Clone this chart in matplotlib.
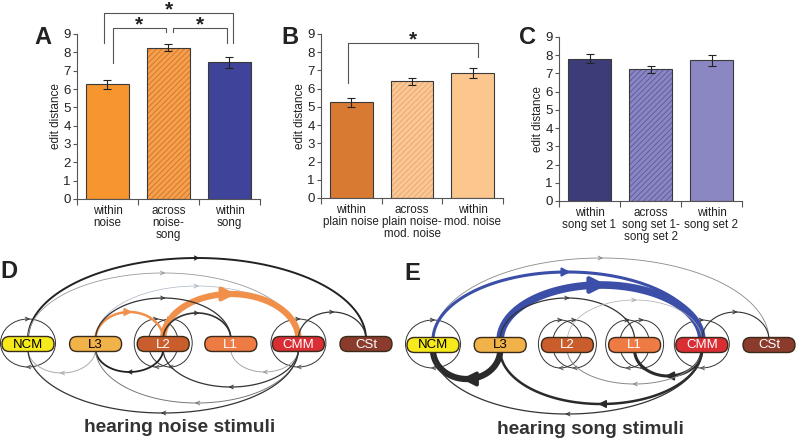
import numpy as np
import matplotlib
matplotlib.use("Agg")
import matplotlib.pyplot as plt
from matplotlib.patches import FancyBboxPatch, Ellipse

plt.rcParams['font.family'] = ['Liberation Sans', 'DejaVu Sans']
plt.rcParams['hatch.linewidth'] = 0.6

# ---------------- data ----------------
labels_a = ["within\nnoise", "across\nnoise-\nsong", "within\nsong"]
means_a = [6.25, 8.25, 7.45]
errs_a = [0.25, 0.2, 0.3]

labels_b = ["within\nplain noise", "across\nplain noise-\nmod. noise", "within\nmod. noise"]
means_b = [5.25, 6.4, 6.85]
errs_b = [0.25, 0.2, 0.28]

labels_c = ["within\nsong set 1", "across\nsong set 1-\nsong set 2", "within\nsong set 2"]
means_c = [7.8, 7.22, 7.72]
errs_c = [0.25, 0.2, 0.3]

nodes = ["NCM", "L3", "L2", "L1", "CMM", "CSt"]
node_colors = ["#f6ea1c", "#f2b24a", "#c95d2b", "#ee7a44", "#da2e35", "#8a3b2c"]
node_text = ["black", "black", "white", "white", "white", "white"]

# edges: source, target, weight (line width), colour
edges_d = [
    ("NCM", "CSt", 1.4, "#222222"), ("NCM", "CMM", 0.6, "#999999"),
    ("L3", "CMM", 0.5, "#aab4c8"), ("L3", "L2", 1.8, "#f0904a"),
    ("L2", "CMM", 4.5, "#f0904a"), ("L3", "L1", 0.9, "#333333"),
    ("L2", "L1", 1.2, "#333333"), ("CMM", "CSt", 0.9, "#333333"),
    ("L3", "NCM", 0.7, "#aaaaaa"), ("L2", "L3", 1.3, "#222222"),
    ("CMM", "L1", 0.6, "#999999"), ("CMM", "L2", 0.9, "#333333"),
    ("CMM", "L3", 0.7, "#777777"), ("CMM", "NCM", 0.9, "#333333"),
]
loops_d = {"NCM": 1, "L2": 2, "CMM": 1}

edges_e = [
    ("NCM", "CSt", 0.6, "#888888"), ("NCM", "CMM", 2.2, "#3b4ea8"),
    ("L3", "CMM", 5.5, "#3b4ea8"), ("L3", "L1", 0.9, "#333333"),
    ("L2", "CMM", 0.5, "#aaaaaa"), ("CMM", "CSt", 0.8, "#333333"),
    ("L3", "NCM", 4.5, "#2a2a2a"), ("CMM", "L1", 2.2, "#2a2a2a"),
    ("CMM", "L2", 0.7, "#888888"), ("CMM", "L3", 1.8, "#2a2a2a"),
    ("CMM", "NCM", 0.9, "#333333"),
]
loops_e = {"NCM": 1, "L2": 2, "L1": 2, "CMM": 1}

# arc heights (pixels), same order as edges
heights_d = [86, 71, 58, 32, 50, 46, 31, 32, 29, 28, 28, 43, 59, 69]
heights_e = [87, 73, 60, 47, 45, 33, 34, 31, 39, 59, 69]

W, H = 797, 442
fig = plt.figure(figsize=(W / 100, H / 100), dpi=100)


def px_axes(l, r, t, b):
    return fig.add_axes([l / W, 1 - b / H, (r - l) / W, (b - t) / H])


def bar_panel(ax, means, errs, labels, colors, hatch_col):
    x = np.arange(len(means))
    for i in range(len(means)):
        if hatch_col[i] is not None:
            ax.bar(x[i], means[i], width=0.7, color=colors[i], edgecolor=hatch_col[i],
                   hatch="//////", linewidth=0, zorder=2)
            ax.bar(x[i], means[i], width=0.7, fill=False, edgecolor="#3a3a3a",
                   linewidth=0.8, zorder=3)
        else:
            ax.bar(x[i], means[i], width=0.7, color=colors[i], edgecolor="#3a3a3a",
                   linewidth=0.8, zorder=2)
    ax.errorbar(x, means, yerr=errs, fmt="none", ecolor="#222222", elinewidth=0.8,
                capsize=3, capthick=0.8, zorder=4)
    ax.set_xlim(-0.5, 2.5)
    ax.set_ylim(0, 9)
    ax.set_yticks(range(10))
    ax.set_xticks([-0.5, 0.5, 1.5, 2.5])
    ax.set_xticklabels([])
    ax.set_xticks(x, minor=True)
    ax.set_xticklabels(labels, minor=True, fontsize=8.4, linespacing=0.98,
                       color="#222222")
    ax.tick_params(axis="x", which="minor", length=0, pad=4.5)
    ax.tick_params(axis="x", which="major", length=4, width=0.8, color="#555555")
    ax.tick_params(axis="y", length=3, width=0.8, labelsize=9.5, pad=1.5,
                   color="#555555", labelcolor="#222222")
    for s in ["top", "right"]:
        ax.spines[s].set_visible(False)
    for s in ["left", "bottom"]:
        ax.spines[s].set_color("#555555")
        ax.spines[s].set_linewidth(0.8)
    ax.set_ylabel("edit distance", fontsize=8.5, labelpad=1, color="#222222")


def bracket(ax, x1, x2, y, y1, y2):
    ax.plot([x1, x1, x2, x2], [y1, y, y, y2], color="#555555", lw=0.8,
            clip_on=False, zorder=5)


def star(ax, x, y):
    ax.text(x, y, "*", ha="center", va="center", fontsize=15, fontweight="bold",
            color="#222222", clip_on=False)


ax_a = px_axes(77, 260, 34, 199)
bar_panel(ax_a, means_a, errs_a, labels_a, ["#f7962f", "#f4a04c", "#3f4399"],
          [None, "#d2702a", None])
bracket(ax_a, -0.06, 2.06, 10.15, 8.5, 8.5)
bracket(ax_a, 0.09, 0.96, 9.33, 7.4, 9.1)
bracket(ax_a, 1.07, 1.96, 9.33, 9.1, 8.5)
star(ax_a, 1.0, 10.3)
star(ax_a, 0.52, 9.5)
star(ax_a, 1.52, 9.5)

ax_b = px_axes(321, 503, 34, 198)
bar_panel(ax_b, means_b, errs_b, labels_b, ["#d97a33", "#f9c896", "#fbc78e"],
          [None, "#e9a466", None])
bracket(ax_b, -0.06, 2.09, 8.5, 6.3, 7.75)
star(ax_b, 1.02, 8.7)

ax_c = px_axes(559, 742, 37, 201)
bar_panel(ax_c, means_c, errs_c, labels_c, ["#3d3c78", "#8a86c4", "#8b87c3"],
          [None, "#5b589c", None])

# ---------------- network diagrams ----------------
ov = fig.add_axes([0, 0, 1, 1])
ov.set_xlim(0, W)
ov.set_ylim(H, 0)
ov.axis("off")
ov.patch.set_alpha(0)

node_w, node_h = 52, 15


def arrow_head(x, y, direction, lw, color):
    big = lw >= 1.7
    d = 1.5 + lw * 0.8
    style = "-|>" if big else "->"
    scale = 6 + lw * 3.2 if big else 7
    ov.annotate("", xy=(x + direction * d, y), xytext=(x - direction * d, y),
                arrowprops=dict(arrowstyle=style, color=color, lw=max(lw * 0.6, 0.6),
                                mutation_scale=scale, shrinkA=0, shrinkB=0),
                zorder=2)


def draw_network(x0, step, y0, edges, heights, loops):
    pos = {n: x0 + i * step for i, n in enumerate(nodes)}
    # self loops
    for n, k in loops.items():
        cx = pos[n]
        offs = [0] if k == 1 else [-7, 7]
        for o in offs:
            wdt = 55 if k == 1 else 44
            ov.add_patch(Ellipse((cx + o, y0 - 1), wdt, 48, fill=False, lw=0.7,
                                 ec="#333333", zorder=1))
            arrow_head(cx + o, y0 - 25, 1, 0.7, "#333333")
            arrow_head(cx + o, y0 + 23, -1, 0.7, "#555555")
    # arcs
    t = np.linspace(0, np.pi, 120)
    for (s, d, lw, col), h in zip(edges, heights):
        xs, xd = pos[s], pos[d]
        up = xd > xs
        xc = (xs + xd) / 2
        a = (xd - xs) / 2
        sign = -1 if up else 1
        yb = y0 + sign * 5
        xx = xc - a * np.cos(t)
        yy = yb + sign * (h - 5) * np.sin(t)
        ov.plot(xx, yy, color=col, lw=lw, solid_capstyle="butt", zorder=2)
        arrow_head(xc, yb + sign * (h - 5), 1 if up else -1, lw, col)
    # nodes
    for i, n in enumerate(nodes):
        cx = pos[n]
        ov.add_patch(FancyBboxPatch((cx - node_w / 2, y0 - node_h / 2), node_w,
                                    node_h, boxstyle="round,pad=0,rounding_size=7.5",
                                    fc=node_colors[i], ec="#3a2a1a", lw=1.0, zorder=3))
        ov.text(cx, y0 + 0.5, n, ha="center", va="center", fontsize=9.5,
                color=node_text[i], zorder=4)


draw_network(28, 67.6, 344, edges_d, heights_d, loops_d)
draw_network(433, 67.2, 345, edges_e, heights_e, loops_e)

for letter, lx, ly in [("A", 43, 37), ("B", 290, 37), ("C", 528, 37),
                       ("D", 9, 272), ("E", 412, 273)]:
    ov.text(lx, ly, letter, fontsize=17, fontweight="bold", ha="center",
            va="center", color="#222222")

ov.text(180, 428, "hearing noise stimuli", fontsize=13.8, fontweight="bold",
        ha="center", va="center", color="#333333")
ov.text(590, 429, "hearing song stimuli", fontsize=13.8, fontweight="bold",
        ha="center", va="center", color="#333333")

fig.savefig("out.png", dpi=100)
